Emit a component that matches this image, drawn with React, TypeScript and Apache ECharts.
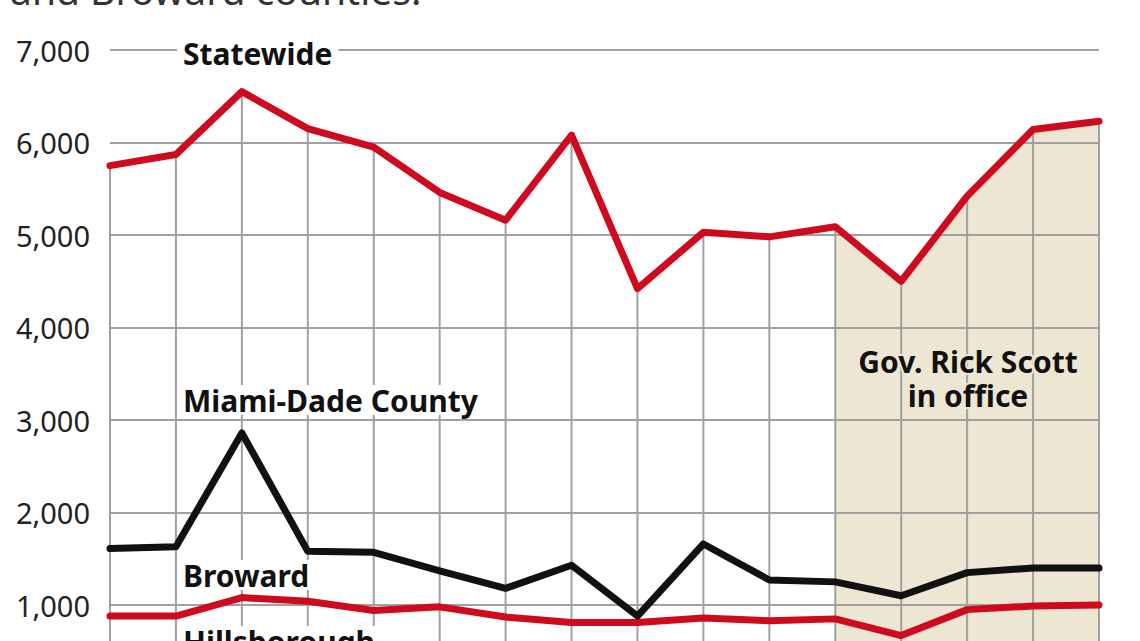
import React, { useEffect, useRef } from "react";
import * as echarts from "echarts";

const years = ["2000","2001","2002","2003","2004","2005","2006","2007","2008","2009","2010","2011","2012","2013","2014","2015"];
const statewide = [5750, 5870, 6550, 6150, 5950, 5460, 5160, 6080, 4420, 5030, 4980, 5090, 4500, 5420, 6140, 6230];
const miamiDade = [1610, 1630, 2860, 1580, 1570, 1370, 1180, 1430, 880, 1660, 1270, 1250, 1100, 1350, 1400, 1400];
const broward = [880, 880, 1080, 1040, 940, 980, 870, 810, 810, 860, 830, 850, 670, 950, 990, 1000];
const scottStartIndex = 11;
const yTicks = { min: 0, max: 7000, interval: 1000 };

const RED = "#cf0a1f";
const BLACK = "#111111";
const GRID = "#a0a0a0";
const SHADE = "#ede6d3";
const FONT = "'Noto Sans', 'Open Sans', sans-serif";

export default function App() {
  const ref = useRef<HTMLDivElement>(null);
  useEffect(() => {
    if (!ref.current) return;
    const chart = echarts.init(ref.current, undefined, { renderer: "svg" });
    const scottShade = statewide.map((v, i) => (i >= scottStartIndex ? v : null));
    const labelStyle = (extra: any) => ({
      fontFamily: FONT,
      fontWeight: "bold",
      fontSize: 30,
      fill: "#111",
      ...extra,
    });
    chart.setOption({
      animation: false,
      backgroundColor: "#ffffff",
      grid: { left: 110, right: 41, top: 50, bottom: 62.5 },
      xAxis: {
        type: "category",
        data: years,
        boundaryGap: false,
        axisLine: { show: false },
        axisTick: { show: false },
        axisLabel: { show: false },
        splitLine: { show: false },
      },
      yAxis: {
        type: "value",
        min: yTicks.min,
        max: yTicks.max,
        interval: yTicks.interval,
        z: 3,
        axisLine: { show: false },
        axisTick: { show: false },
        axisLabel: {
          margin: 20,
          fontFamily: FONT,
          fontSize: 29,
          color: "#222",
          formatter: (v: number) => v.toLocaleString("en-US"),
        },
        splitLine: { lineStyle: { color: GRID, width: 2 } },
      },
      series: [
        {
          name: "Scott shade",
          type: "line",
          data: scottShade,
          symbol: "none",
          z: 1,
          lineStyle: { width: 0 },
          areaStyle: { color: SHADE, opacity: 1 },
          silent: true,
        },
        {
          name: "drop lines",
          type: "bar",
          data: statewide,
          barWidth: 2,
          z: 4,
          itemStyle: { color: GRID },
          silent: true,
        },
        {
          name: "Broward",
          type: "line",
          data: broward,
          symbol: "none",
          z: 6,
          lineStyle: { color: RED, width: 7, cap: "round", join: "round" },
        },
        {
          name: "Miami-Dade County",
          type: "line",
          data: miamiDade,
          symbol: "none",
          z: 6,
          lineStyle: { color: BLACK, width: 7, cap: "round", join: "round" },
        },
        {
          name: "Statewide",
          type: "line",
          data: statewide,
          symbol: "none",
          z: 6,
          lineStyle: { color: RED, width: 7, cap: "round", join: "round" },
        },
      ],
      graphic: [
        {
          type: "text",
          x: 10,
          y: 9,
          z: 10,
          style: {
            text: "and Broward counties.",
            fontFamily: FONT,
            fontSize: 39,
            fill: "#333",
            verticalAlign: "bottom",
          },
        },
        {
          type: "text",
          x: 177,
          y: 53,
          z: 10,
          style: labelStyle({
            text: "Statewide",
            verticalAlign: "middle",
            backgroundColor: "#fff",
            padding: [0, 6],
          }),
        },
        {
          type: "text",
          x: 177,
          y: 400,
          z: 10,
          style: labelStyle({
            text: "Miami-Dade County",
            verticalAlign: "middle",
            backgroundColor: "#fff",
            padding: [0, 6],
          }),
        },
        {
          type: "text",
          x: 177,
          y: 575,
          z: 10,
          style: labelStyle({
            text: "Broward",
            verticalAlign: "middle",
            backgroundColor: "#fff",
            padding: [0, 6],
          }),
        },
        {
          type: "text",
          x: 177,
          y: 641,
          z: 10,
          style: labelStyle({
            text: "Hillsborough",
            verticalAlign: "middle",
            backgroundColor: "#fff",
            padding: [0, 6],
          }),
        },
        {
          type: "text",
          x: 968,
          y: 361,
          z: 10,
          style: labelStyle({
            text: "Gov. Rick Scott",
            align: "center",
            verticalAlign: "middle",
            lineHeight: 30,
            stroke: SHADE,
            lineWidth: 4,
          }),
        },
        {
          type: "text",
          x: 968,
          y: 395,
          z: 10,
          style: labelStyle({
            text: "in office",
            align: "center",
            verticalAlign: "middle",
            lineHeight: 30,
            stroke: SHADE,
            lineWidth: 4,
          }),
        },
      ],
    });
    return () => chart.dispose();
  }, []);
  return (
    <div
      style={{
        position: "fixed",
        left: 0,
        top: 0,
        width: 1140,
        height: 641,
        overflow: "hidden",
        background: "#fff",
      }}
    >
      <div ref={ref} style={{ width: 1140, height: 760 }} />
    </div>
  );
}
